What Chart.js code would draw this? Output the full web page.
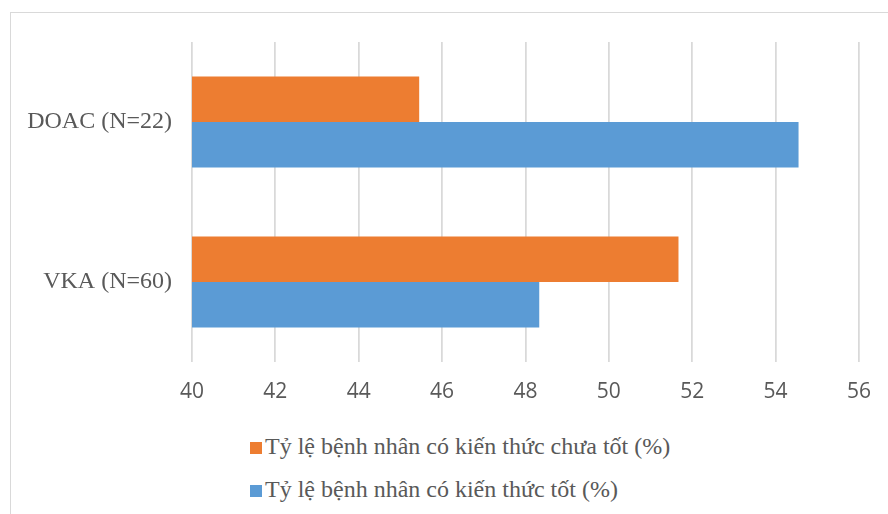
<!DOCTYPE html>
<html>
<head>
<meta charset="utf-8">
<script src="https://cdn.jsdelivr.net/npm/chart.js@4/dist/chart.umd.min.js"></script>
<style>
  html, body { margin: 0; padding: 0; background: #fff; }
  #wrap { position: relative; width: 888px; height: 514px; overflow: hidden; background: #fff; }
  #frame { position: absolute; left: 10px; top: 12px; width: 900px; height: 540px; border: 1.5px solid #d9d9d9; box-sizing: border-box; }
  #c { position: absolute; left: 0; top: 0; }
  #legend { position: absolute; left: 250px; top: 425px; font-family: "Liberation Serif", "Times New Roman", serif; font-size: 24px; color: #595959; }
  .item { display: flex; align-items: center; height: 43px; white-space: nowrap; }
  .box { width: 12px; height: 12px; margin-right: 3px; flex: none; position: relative; top: 1px; }
</style>
</head>
<body>
<div id="wrap">
  <div id="frame"></div>
  <canvas id="c" width="888" height="420" style="width:888px;height:420px"></canvas>
  <div id="legend"></div>
</div>
<script>
const categories = ['DOAC (N=22)', 'VKA (N=60)'];
const seriesLabels = ['Tỷ lệ bệnh nhân có kiến thức chưa tốt (%)', 'Tỷ lệ bệnh nhân có kiến thức tốt (%)'];
const chuaTot = [45.45, 51.67];
const tot = [54.55, 48.33];
const seriesColors = ['#ED7D31', '#5B9BD5'];
const xMin = 40, xMax = 56, xStep = 2;

const chart = new Chart(document.getElementById('c'), {
  type: 'bar',
  data: {
    labels: categories,
    datasets: [
      { label: seriesLabels[0], data: chuaTot, backgroundColor: seriesColors[0], borderWidth: 0 },
      { label: seriesLabels[1], data: tot, backgroundColor: seriesColors[1], borderWidth: 0 }
    ]
  },
  options: {
    indexAxis: 'y',
    responsive: false,
    animation: false,
    devicePixelRatio: 1,
    categoryPercentage: 0.57,
    barPercentage: 1.0,
    layout: { padding: { top: 42, right: 27, left: 0, bottom: 0 } },
    plugins: { legend: { display: false }, tooltip: { enabled: false } },
    scales: {
      x: {
        min: xMin, max: xMax,
        ticks: { stepSize: xStep, color: '#595959', font: { family: "'Open Sans', sans-serif", size: 21 }, padding: 17 },
        grid: { color: '#d9d9d9', lineWidth: 1.75, drawTicks: false },
        border: { display: false },
        afterFit: s => { s.height = 58; }
      },
      y: {
        ticks: { color: '#595959', font: { family: "'Liberation Serif', 'Times New Roman', serif", size: 24 }, padding: 20 },
        grid: { display: false, drawTicks: false },
        border: { display: false },
        afterFit: s => { s.width = 192; }
      }
    }
  }
});

const leg = document.getElementById('legend');
chart.data.datasets.forEach(ds => {
  const it = document.createElement('div');
  it.className = 'item';
  const b = document.createElement('span');
  b.className = 'box';
  b.style.background = ds.backgroundColor;
  const t = document.createElement('span');
  t.textContent = ds.label;
  it.appendChild(b); it.appendChild(t);
  leg.appendChild(it);
});
</script>
</body>
</html>
